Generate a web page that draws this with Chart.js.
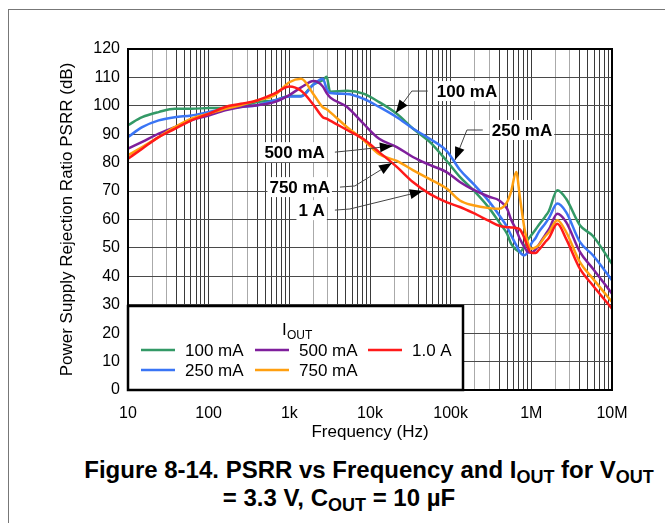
<!DOCTYPE html>
<html>
<head>
<meta charset="utf-8">
<script src="https://cdn.jsdelivr.net/npm/chart.js"></script>
<style>
  html, body { margin: 0; padding: 0; background: #fff; overflow: hidden; }
  body { width: 665px; height: 523px; position: relative; font-family: Arial, "Liberation Sans", sans-serif; }
  .frame { position: absolute; left: 8px; top: 9px; width: 700px; height: 600px; border: 1px solid #777; }
  .plot { position: absolute; left: 0; top: 0; width: 665px; height: 450px; }
  .caption { position: absolute; left: 0; font-weight: bold; font-size: 24px; white-space: nowrap; color: #000; text-align: center; }
  .caption sub { font-size: 0.75em; vertical-align: -0.25em; line-height: 0; }
</style>
</head>
<body>
<div class="frame"></div>
<div class="plot"><canvas id="psrrChart"></canvas></div>
<div class="caption" style="width: 738px; top: 456px;">Figure 8-14. PSRR vs Frequency and I<sub>OUT</sub> for V<sub>OUT</sub></div>
<div class="caption" style="width: 678px; top: 484px;">= 3.3 V, C<sub>OUT</sub> = 10 µF</div>
<script>
// frequency points (Hz) shared by all curves
const freqHz = [10, 15, 24, 38, 61, 100, 160, 250, 400, 650, 1000, 1400, 2000, 2600, 2900,
  3200, 5200, 8300, 13000, 21500, 34000, 55000, 90000, 130000, 190000, 300000, 400000,
  500000, 560000, 650000, 720000, 820000, 900000, 1000000, 1130000, 1230000, 1480000,
  1650000, 2100000, 2700000, 4000000, 5800000, 10000000];

// PSRR (dB) per output current
const psrr100mA = [93.2, 96, 97.8, 99, 99, 99.2, 99.3, 99.8, 101.3, 101.9, 103.5, 103.5, 107.6, 109, 110.2,
  105, 105.3, 104.3, 101.3, 97.2, 92, 87.3, 80.5, 75, 70.4, 64, 59, 55, 51.5, 49.3, 48.6, 50.5, 52.8,
  54.5, 56.5, 58, 61, 63, 70.3, 67.3, 58, 54.2, 44.4];
const psrr250mA = [89, 92.5, 94.9, 96, 96.6, 97.8, 99, 99.6, 100.2, 101.9, 103.3, 103.3, 107.5, 109.5, 106,
  104.5, 104.2, 102.5, 99.6, 96, 92, 88.4, 84, 77.5, 72.6, 66.3, 61.5, 57.4, 54.5, 51, 48.6, 47.4, 48.5,
  51.5, 53.5, 55.5, 58.5, 60.5, 65.6, 62.6, 52.1, 47.4, 38.6];
const psrr500mA = [84.9, 87.3, 90.2, 92.5, 94.9, 96.6, 98.4, 99.6, 100.2, 101.3, 103.8, 106.5, 108.7, 106.8, 104.5,
  103, 99.6, 93.7, 88.4, 85.5, 82, 79.2, 76.6, 73.2, 70.5, 68, 66.7, 63.8, 60, 56.3, 53.2, 50.3, 48.6,
  48.3, 49.5, 51, 54.5, 56.5, 62, 59.1, 48.6, 42.7, 33.9];
const psrr750mA = [82.6, 85.5, 89, 92.5, 95.5, 97.2, 99, 100.2, 101.9, 103.7, 108.3, 109.5, 104, 99.5, 98.8,
  97.8, 92.5, 88, 83, 80.6, 77.4, 74.2, 70.8, 66.7, 65, 64, 63.8, 66.1, 69.7, 76.7, 68, 57, 52,
  49.7, 50.2, 50.9, 54, 55.5, 59.7, 55.6, 45, 39.2, 31];
const psrr1A = [81.4, 84.9, 89, 91.9, 94.9, 97.2, 99.6, 100.7, 101.9, 104.3, 106.8, 105.3, 100.3, 96, 95.5,
  94.8, 91.5, 88.3, 83.7, 78.5, 73.2, 69, 66, 64.4, 62.3, 59.5, 57.8, 57.3, 57.2, 57, 56.5, 53.5, 50.3,
  48.3, 48.2, 49.2, 52, 53.5, 58.5, 53.2, 42.7, 36.8, 28.6];

const seriesNames = ['100 mA', '250 mA', '500 mA', '750 mA', '1.0 A'];
const seriesValues = [psrr100mA, psrr250mA, psrr500mA, psrr750mA, psrr1A];
const seriesColors = ['#339966', '#3a75f5', '#7f1f9c', '#ff9f10', '#ff1a1a'];

const decadeTicks = [10, 100, 1e3, 1e4, 1e5, 1e6, 1e7];
const decadeLabels = ['10', '100', '1k', '10k', '100k', '1M', '10M'];

// callouts: label text, arrow tip on the curve, elbow of leader, leader start next to text
const calloutNames = ['100 mA', '250 mA', '500 mA', '750 mA', '1 A'];
const calloutSide = ['right', 'right', 'left', 'left', 'left'];
const calloutTipHz = [20900, 113000, 19200, 18700, 45200];
const calloutTipDb = [97.5, 80.9, 85.9, 79.9, 70];
const calloutElbowHz = [33000, 159000, 6500, 6500, 5640];
const calloutElbowDb = [105.2, 91.5, 84.4, 71.8, 63.7];
const calloutStartHz = [52000, 250000, 3670, 4240, 3670];
const calloutLabelDb = [105.2, 91.5, 83.7, 71.4, 63.3];

Chart.defaults.font.family = 'Arial, "Liberation Sans", sans-serif';
Chart.defaults.color = '#000';

const gridHz = [];
decadeTicks.slice(0, -1).forEach(d => {
  for (let m = 1; m <= 9; m++) gridHz.push(d * m);
});
gridHz.push(decadeTicks[decadeTicks.length - 1]);

function mantissa(v) {
  return Math.round(v / Math.pow(10, Math.floor(Math.log10(v) + 1e-9)));
}

const overlayPlugin = {
  id: 'overlay',
  afterDatasetsDraw(chart) {
    const { ctx, chartArea: a, scales: { x, y } } = chart;
    ctx.save();

    // callouts
    calloutNames.forEach((name, i) => {
      const tx = x.getPixelForValue(calloutTipHz[i]), ty = y.getPixelForValue(calloutTipDb[i]);
      const ex = x.getPixelForValue(calloutElbowHz[i]), ey = y.getPixelForValue(calloutElbowDb[i]);
      const sx = x.getPixelForValue(calloutStartHz[i]), sy = y.getPixelForValue(calloutLabelDb[i]);

      ctx.font = 'bold 17px Arial, "Liberation Sans", sans-serif';
      ctx.textBaseline = 'middle';
      const right = calloutSide[i] === 'right';
      ctx.textAlign = right ? 'left' : 'right';
      const textX = sx + (right ? 9 : -10);
      const w = ctx.measureText(name).width;
      ctx.fillStyle = '#fff';
      ctx.fillRect(right ? textX - 2 : textX - w - 2, sy - 10, w + 4, 20);
      ctx.fillStyle = '#000';
      ctx.fillText(name, textX, sy + 1);

      ctx.strokeStyle = '#444';
      ctx.lineWidth = 1;
      ctx.beginPath();
      ctx.moveTo(sx, sy);
      ctx.lineTo(ex, ey);
      ctx.lineTo(tx, ty);
      ctx.stroke();

      const ang = Math.atan2(ty - ey, tx - ex);
      const len = 13, half = 5;
      const bx = tx - len * Math.cos(ang), by = ty - len * Math.sin(ang);
      ctx.fillStyle = '#000';
      ctx.beginPath();
      ctx.moveTo(tx, ty);
      ctx.lineTo(bx + half * Math.sin(ang), by - half * Math.cos(ang));
      ctx.lineTo(bx - half * Math.sin(ang), by + half * Math.cos(ang));
      ctx.closePath();
      ctx.fill();
    });

    // plot frame
    ctx.strokeStyle = '#000';
    ctx.lineWidth = 2;
    ctx.strokeRect(a.left, a.top, a.right - a.left, a.bottom - a.top);

    // legend box
    const lx0 = a.left, lx1 = 463, ly0 = 306, ly1 = a.bottom;
    ctx.fillStyle = '#fff';
    ctx.fillRect(lx0, ly0, lx1 - lx0, ly1 - ly0);
    ctx.lineWidth = 2.5;
    ctx.strokeRect(lx0, ly0, lx1 - lx0, ly1 - ly0);

    ctx.fillStyle = '#000';
    ctx.textAlign = 'left';
    ctx.textBaseline = 'alphabetic';
    ctx.font = '17px Arial, "Liberation Sans", sans-serif';
    ctx.fillText('I', 282, 335);
    ctx.font = '12px Arial, "Liberation Sans", sans-serif';
    ctx.fillText('OUT', 287, 339);

    const colX = [141, 255, 368];
    const rowY = [350, 370];
    ctx.font = '17px Arial, "Liberation Sans", sans-serif';
    ctx.textBaseline = 'middle';
    seriesNames.forEach((name, i) => {
      const cx = colX[Math.floor(i / 2)], cy = rowY[i % 2];
      ctx.strokeStyle = seriesColors[i];
      ctx.lineWidth = 2.5;
      ctx.beginPath();
      ctx.moveTo(cx, cy);
      ctx.lineTo(cx + 34, cy);
      ctx.stroke();
      ctx.fillStyle = '#000';
      ctx.fillText(name, cx + 44, cy + 1);
    });

    ctx.restore();
  }
};

new Chart(document.getElementById('psrrChart'), {
  type: 'line',
  data: {
    datasets: seriesNames.map((name, i) => ({
      label: name,
      data: freqHz.map((f, k) => ({ x: f, y: seriesValues[i][k] })),
      borderColor: seriesColors[i],
      backgroundColor: seriesColors[i],
      borderWidth: 2.5,
      pointRadius: 0,
      cubicInterpolationMode: 'monotone',
      fill: false,
      order: 5 - i
    }))
  },
  options: {
    responsive: true,
    maintainAspectRatio: false,
    animation: false,
    layout: { padding: { left: 57, right: 53, top: 49, bottom: 0 } },
    plugins: {
      legend: { display: false },
      tooltip: { enabled: false }
    },
    scales: {
      x: {
        type: 'logarithmic',
        min: 10,
        max: 1e7,
        afterBuildTicks(scale) {
          scale.ticks = gridHz.map(v => ({ value: v }));
        },
        afterFit(scale) { scale.height = 60; },
        ticks: {
          autoSkip: false,
          maxRotation: 0,
          padding: 14,
          font: { size: 16 },
          callback(v) {
            const i = decadeTicks.indexOf(Math.round(v));
            return i >= 0 ? decadeLabels[i] : '';
          }
        },
        grid: {
          drawTicks: false,
          lineWidth: 1,
          color: c => {
            const m = mantissa(c.tick.value);
            return (m === 2 || m === 3) ? '#aaaaaa' : '#3a3a3a';
          }
        },
        border: { display: true, color: '#000', width: 2 },
        title: { display: true, text: 'Frequency (Hz)', font: { size: 17 }, padding: { top: 0, bottom: 7 } }
      },
      y: {
        min: 0,
        max: 120,
        afterFit(scale) { scale.width = 71; },
        ticks: { stepSize: 10, padding: 8, font: { size: 16 } },
        grid: { drawTicks: false, color: '#4a4a4a', lineWidth: 1 },
        border: { display: true, color: '#000', width: 2 },
        title: { display: true, text: 'Power Supply Rejection Ratio PSRR (dB)', font: { size: 17 }, padding: 0 }
      }
    }
  },
  plugins: [overlayPlugin]
});
</script>
</body>
</html>
